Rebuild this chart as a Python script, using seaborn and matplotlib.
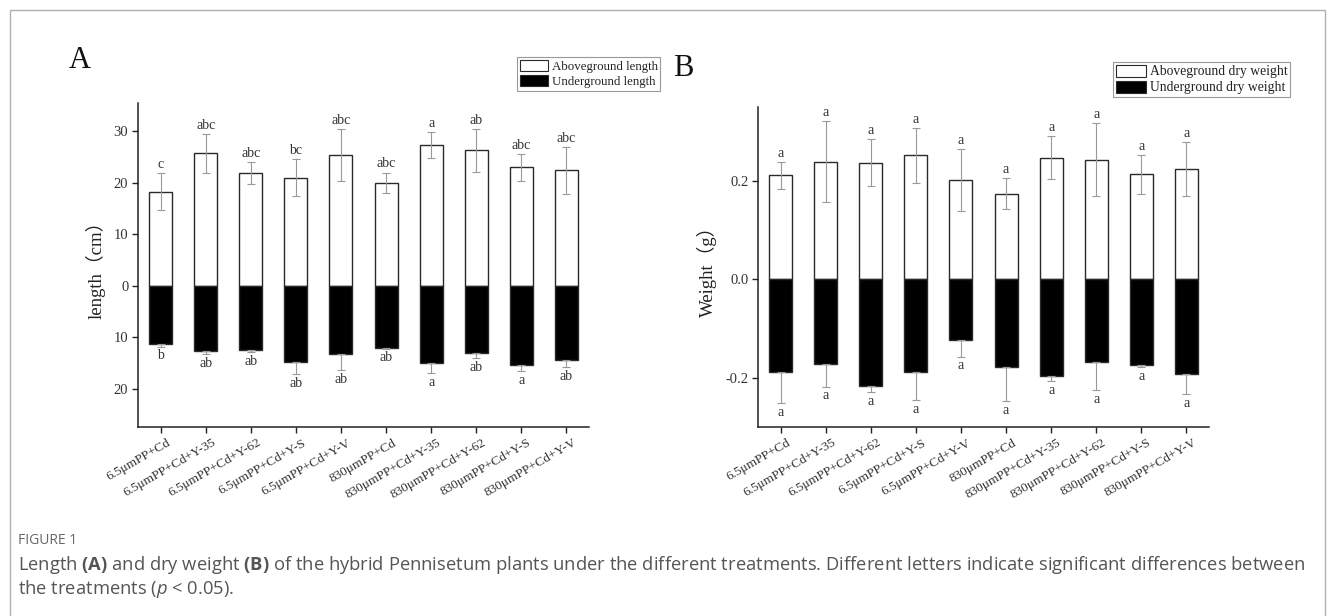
import matplotlib
matplotlib.use("Agg")
import matplotlib.pyplot as plt
import matplotlib.patches as mpatches
import matplotlib.transforms as mtrans
import seaborn as sns
import pandas as pd
import numpy as np

# ---------------- data ----------------
categories = ["6.5μmPP+Cd", "6.5μmPP+Cd+Y-35", "6.5μmPP+Cd+Y-62", "6.5μmPP+Cd+Y-S",
              "6.5μmPP+Cd+Y-V", "830μmPP+Cd", "830μmPP+Cd+Y-35", "830μmPP+Cd+Y-62",
              "830μmPP+Cd+Y-S", "830μmPP+Cd+Y-V"]

above_len = [18.3, 25.7, 21.9, 21.0, 25.4, 20.0, 27.3, 26.3, 23.0, 22.4]
above_len_err = [3.6, 3.8, 2.1, 3.6, 5.0, 2.0, 2.5, 4.2, 2.6, 4.6]
under_len = [11.3, 12.7, 12.4, 14.7, 13.3, 12.0, 15.0, 13.0, 15.4, 14.4]
under_len_err = [0.5, 0.5, 0.5, 2.4, 3.1, 0.2, 1.95, 1.0, 1.2, 1.4]
letters_above_len = ["c", "abc", "abc", "bc", "abc", "abc", "a", "ab", "abc", "abc"]
letters_under_len = ["b", "ab", "ab", "ab", "ab", "ab", "a", "ab", "a", "ab"]

above_wt = [0.211, 0.239, 0.237, 0.252, 0.201, 0.174, 0.247, 0.243, 0.213, 0.224]
above_wt_err = [0.028, 0.082, 0.048, 0.056, 0.063, 0.031, 0.044, 0.074, 0.040, 0.054]
under_wt = [0.189, 0.173, 0.216, 0.189, 0.124, 0.179, 0.196, 0.167, 0.174, 0.193]
under_wt_err = [0.063, 0.045, 0.013, 0.056, 0.033, 0.069, 0.010, 0.058, 0.005, 0.040]
letters_above_wt = ["a"] * 10
letters_under_wt = ["a"] * 10

ticks_len = [-20, -10, 0, 10, 20, 30]
ticklabels_len = ["20", "10", "0", "10", "20", "30"]
ticks_wt = [-0.2, 0.0, 0.2]
ticklabels_wt = ["-0.2", "0.0", "0.2"]

legend_len = ["Aboveground length", "Underground length"]
legend_wt = ["Aboveground dry weight", "Underground dry weight"]

caption_head = "FIGURE 1"
caption_l1 = (r"Length $\mathbf{(A)}$ and dry weight $\mathbf{(B)}$ of the hybrid Pennisetum plants under "
              r"the different treatments. Different letters indicate significant differences between")
caption_l2 = r"the treatments ($p$ < 0.05)."

# ---------------- style ----------------
sns.set_style("ticks")
plt.rcParams["font.family"] = ["Liberation Serif", "Noto Sans CJK SC", "DejaVu Sans"]
plt.rcParams["mathtext.fontset"] = "custom"
plt.rcParams["mathtext.rm"] = "Open Sans"
plt.rcParams["mathtext.it"] = "Open Sans:italic"
plt.rcParams["mathtext.bf"] = "Open Sans:bold"

W, H = 1333, 616
fig = plt.figure(figsize=(W / 100, H / 100), dpi=100)


def fx(px):
    return px / W


def fy(py):
    return 1 - py / H


axA = fig.add_axes([fx(138), fy(427), fx(589 - 138), (427 - 103) / H])
axB = fig.add_axes([fx(758), fy(427), fx(1209 - 758), (427 - 107) / H])

edge = "#2a2a2a"
errc = "#999999"


def panel(ax, above, above_err, under, under_err, la, lu, ylim, ticks, ticklabels, ylabel):
    df_a = pd.DataFrame({"cat": categories, "val": above})
    df_u = pd.DataFrame({"cat": categories, "val": [-v for v in under]})
    sns.barplot(data=df_a, x="cat", y="val", order=categories, ax=ax, color="white",
                edgecolor=edge, linewidth=1.0, width=0.51, saturation=1, errorbar=None, zorder=2)
    sns.barplot(data=df_u, x="cat", y="val", order=categories, ax=ax, color="black",
                edgecolor=edge, linewidth=1.0, width=0.51, saturation=1, errorbar=None, zorder=2)
    xs = np.arange(len(categories))
    ax.errorbar(xs, above, yerr=above_err, fmt="none", ecolor=errc, elinewidth=0.8,
                capsize=3, capthick=0.8, zorder=3)
    neg = [-v for v in under]
    ax.errorbar(xs, neg, yerr=[under_err, [0] * len(under_err)], fmt="none", ecolor=errc,
                elinewidth=0.8, capsize=3, capthick=0.8, zorder=3)
    for x, v, e, t in zip(xs, above, above_err, la):
        ax.annotate(t, (x, v + e), xytext=(0, 1.5), textcoords="offset points",
                    ha="center", va="bottom", fontsize=10, color="#333333")
    for x, v, e, t in zip(xs, under, under_err, lu):
        ax.annotate(t, (x, -(v + e)), xytext=(0, -2), textcoords="offset points",
                    ha="center", va="top", fontsize=10, color="#333333")
    ax.set_xlim(-0.5, len(categories) - 0.5)
    ax.set_ylim(*ylim)
    ax.set_yticks(ticks)
    ax.set_yticklabels(ticklabels)
    ax.set_xlabel("")
    ax.set_ylabel(ylabel, fontsize=13.5, color="#222222",
                  family=["Liberation Serif", "Noto Sans CJK SC"], labelpad=6)
    ax.set_xticks(xs)
    ax.set_xticklabels(categories, rotation=30, ha="right", rotation_mode="anchor",
                       fontsize=9.5, color="#333333")
    ax.tick_params(axis="both", direction="out", length=4.5, width=1.0, color="#222222",
                   labelcolor="#333333", pad=2.5)
    ax.tick_params(axis="y", labelsize=10.5)
    sns.despine(ax=ax)
    for s in ("left", "bottom"):
        ax.spines[s].set_linewidth(1.1)
        ax.spines[s].set_color("#222222")
    ax.set_facecolor("white")


panel(axA, above_len, above_len_err, under_len, under_len_err,
      letters_above_len, letters_under_len, (-27.4, 35.5), ticks_len, ticklabels_len, "length（cm）")
panel(axB, above_wt, above_wt_err, under_wt, under_wt_err,
      letters_above_wt, letters_under_wt, (-0.30, 0.35), ticks_wt, ticklabels_wt, "Weight（g）")

# shift x tick labels slightly right
off = mtrans.ScaledTranslation(6 / 100, 0, fig.dpi_scale_trans)
for ax in (axA, axB):
    for lab in ax.get_xticklabels():
        lab.set_transform(lab.get_transform() + off)


# legends
def make_handles():
    return [mpatches.Patch(facecolor="white", edgecolor=edge, linewidth=0.8),
            mpatches.Patch(facecolor="black", edgecolor=edge, linewidth=0.8)]


for labels, (x0, y0), fs in ((legend_len, (517, 57), 9.3), (legend_wt, (1113, 62), 9.8)):
    lg = fig.legend(make_handles(), labels, loc="upper left", bbox_to_anchor=(fx(x0), fy(y0)),
                    bbox_transform=fig.transFigure, fontsize=fs, frameon=True, fancybox=False,
                    framealpha=1, edgecolor="#999999", borderpad=0.2, borderaxespad=0,
                    handlelength=2.2, handleheight=1.0, handletextpad=0.3, labelspacing=0.15)
    lg.get_frame().set_linewidth(0.8)
    for t in lg.get_texts():
        t.set_color("#222222")

# panel letters
fig.text(fx(80), fy(60), "A", fontsize=22, ha="center", va="center", color="#111111")
fig.text(fx(683), fy(69), "B", fontsize=22, ha="center", va="center", color="#111111")

# caption
fig.text(fx(18), fy(541), caption_head, fontsize=10, color="#666666", family="Open Sans",
         ha="left", va="center")
fig.text(fx(18), fy(565), caption_l1, fontsize=13.2, color="#555555", family="Open Sans",
         ha="left", va="center")
fig.text(fx(18), fy(589), caption_l2, fontsize=13.2, color="#555555", family="Open Sans",
         ha="left", va="center")

# border
fig.patches.append(mpatches.Rectangle((fx(9.5), -0.05), fx(1325 - 9.5), fy(10) + 0.05,
                                      transform=fig.transFigure, fill=False,
                                      edgecolor="#b0b0b0", linewidth=1.0))

fig.savefig("out.png", dpi=100, facecolor="white")
